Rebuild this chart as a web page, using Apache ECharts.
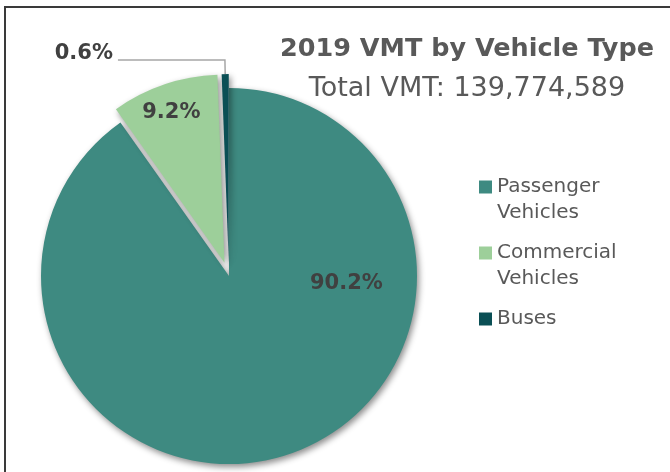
<!DOCTYPE html>
<html lang="en">
<head>
    <meta charset="UTF-8">
    <title>2019 VMT by Vehicle Type</title>
    <script src="https://cdn.jsdelivr.net/npm/echarts@6/dist/echarts.min.js"></script>
</head>
<style>
html,body{margin:0;padding:0;background:#fff;}
#chartBox{width:670px;height:472px;}
</style>
<body>
    <div id="chartBox"></div>
</body>
<script>
// 数据
let categories = ['Passenger Vehicles', 'Commercial Vehicles', 'Buses'];
let legendLabels = ['Passenger\nVehicles', 'Commercial\nVehicles', 'Buses'];
let shares = [90.2, 9.2, 0.6];
let exploded = [false, true, true];
let colors = ['#3e8a81', '#9dcf9a', '#0a4f55'];
let titleText = '2019 VMT by Vehicle Type';
let subText = 'Total VMT: 139,774,589';

// 标签位置微调（相对于默认位置）
let labelShift = [[88, -85], [-22, -58], [0, -6]];

function getPieData() {
    return categories.map(function (name, i) {
        let item = {
            name: name,
            value: shares[i],
            selected: exploded[i],
            itemStyle: {color: colors[i]}
        };
        if (i === 2) {
            item.label = {position: 'outside'};
            item.labelLine = {show: true};
        }
        return item;
    });
}

// 图例文字：每项补成三行，让图标对齐第一行
function legendText(name) {
    let txt = legendLabels[categories.indexOf(name)];
    let lines = txt.split('\n');
    if (lines.length < 2) { lines.push(''); }
    return '\n' + lines.join('\n');
}

let chartObj = echarts.init(document.getElementById('chartBox'));
let option = {
    animation: false,
    graphic: [{
        type: 'rect',
        shape: {x: 5, y: 7, width: 700, height: 500},
        style: {fill: 'none', stroke: '#3a3a3a', lineWidth: 2}
    }],
    title: {
        text: titleText,
        subtext: subText,
        left: 462,
        top: 31,
        textAlign: 'center',
        itemGap: 13,
        textStyle: {
            fontFamily: 'DejaVu Sans',
            fontWeight: 'bold',
            fontSize: 25.5,
            color: '#595959'
        },
        subtextStyle: {
            fontFamily: 'DejaVu Sans',
            fontSize: 27,
            color: '#595959'
        }
    },
    legend: {
        orient: 'vertical',
        left: 474,
        top: 143,
        itemWidth: 13,
        itemHeight: 13,
        itemGap: -12,
        icon: 'rect',
        selectedMode: false,
        data: categories,
        formatter: legendText,
        textStyle: {
            fontFamily: 'DejaVu Sans',
            fontSize: 20,
            lineHeight: 26,
            color: '#595959'
        }
    },
    series: [{
        type: 'pie',
        center: [229, 276],
        radius: 188,
        startAngle: 90,
        clockwise: true,
        selectedMode: 'multiple',
        selectedOffset: 14,
        avoidLabelOverlap: false,
        emphasis: {disabled: true},
        itemStyle: {
            shadowBlur: 6,
            shadowOffsetX: 2,
            shadowOffsetY: 3,
            shadowColor: 'rgba(0,0,0,0.45)'
        },
        label: {
            show: true,
            position: 'inside',
            formatter: function (p) { return p.value.toFixed(1) + '%'; },
            fontFamily: 'DejaVu Sans',
            fontWeight: 'bold',
            fontSize: 21,
            color: '#404040'
        },
        labelLine: {
            show: false,
            length: 14,
            length2: 107,
            lineStyle: {color: '#a6a6a6', width: 1.5}
        },
        labelLayout: function (params) {
            let s = labelShift[params.dataIndex];
            return {dx: s[0], dy: s[1]};
        },
        data: getPieData()
    }]
};
chartObj.setOption(option);
</script>
</html>
